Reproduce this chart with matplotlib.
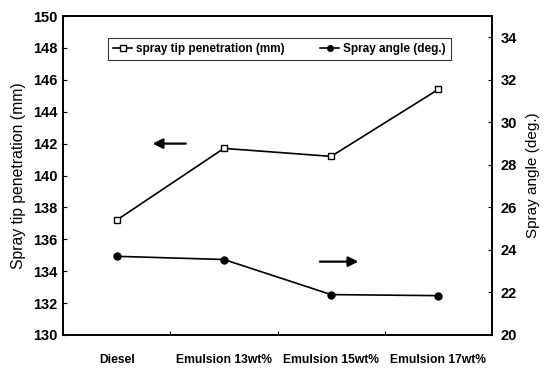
import matplotlib.pyplot as plt
import numpy as np

plt.rcParams['font.family'] = ['Liberation Sans', 'DejaVu Sans']

fuels = ['Diesel', 'Emulsion 13wt%', 'Emulsion 15wt%', 'Emulsion 17wt%']
penetration = [137.2, 141.7, 141.2, 145.4]   # mm
spray_angle = [23.7, 23.55, 21.9, 21.85]     # deg

x = np.arange(len(fuels)) + 0.5

fig = plt.figure(figsize=(5.45, 3.68), dpi=100)
ax = fig.add_axes([63 / 545, 1 - 335 / 368, 429 / 545, 319 / 368])
ax2 = ax.twinx()

l1, = ax.plot(x, penetration, color='black', lw=1.2, marker='s', ms=5,
              mfc='white', mec='black', mew=1.0, label='spray tip penetration (mm)')
l2, = ax2.plot(x, spray_angle, color='black', lw=1.2, marker='o', ms=5,
               mfc='black', mec='black', label='Spray angle (deg.)')

ax.set_xlim(0, 4)
ax.set_ylim(130, 150)
ax.set_yticks(np.arange(130, 151, 2))
ax2.set_ylim(20, 35)
ax2.set_yticks(np.arange(20, 35, 2))

# category labels sit between the tick marks
ax.set_xticks([1, 2, 3])
ax.set_xticklabels([])
ax.set_xticks(x, minor=True)
ax.set_xticklabels(fuels, minor=True, fontsize=8.7, fontweight='bold')
ax.tick_params(axis='x', which='minor', length=0, pad=14)
ax.tick_params(axis='x', which='major', direction='in', length=3)

ax.tick_params(axis='y', direction='in', length=3, labelsize=10.5, pad=4)
ax2.tick_params(axis='y', direction='in', length=3, labelsize=10.5, pad=6)
for lab in ax.get_yticklabels() + ax2.get_yticklabels():
    lab.set_fontweight('bold')

for a in (ax, ax2):
    for s in a.spines.values():
        s.set_linewidth(1.2)

ax.set_ylabel('Spray tip penetration (mm)', fontsize=11.3, labelpad=5)
ax2.set_ylabel('Spray angle (deg.)', fontsize=11, labelpad=7)

leg = ax.legend(handles=[l1, l2], loc='upper left', ncol=2,
                prop={'size': 8.5, 'weight': 'bold'},
                bbox_to_anchor=(39 / 429, 0.95), frameon=True, fancybox=False,
                edgecolor='black', handlelength=1.6, columnspacing=3.0,
                borderpad=0.45, handletextpad=0.35, markerscale=0.8)
leg.get_frame().set_linewidth(0.8)

# arrows pointing to the relevant axis
ax.annotate('', xy=(0.81, 142.0), xytext=(1.17, 142.0),
            arrowprops=dict(arrowstyle='-|>', color='black', lw=1.6, mutation_scale=15))
ax.annotate('', xy=(2.78, 134.6), xytext=(2.37, 134.6),
            arrowprops=dict(arrowstyle='-|>', color='black', lw=1.6, mutation_scale=15))

fig.savefig('out.png', dpi=100)
